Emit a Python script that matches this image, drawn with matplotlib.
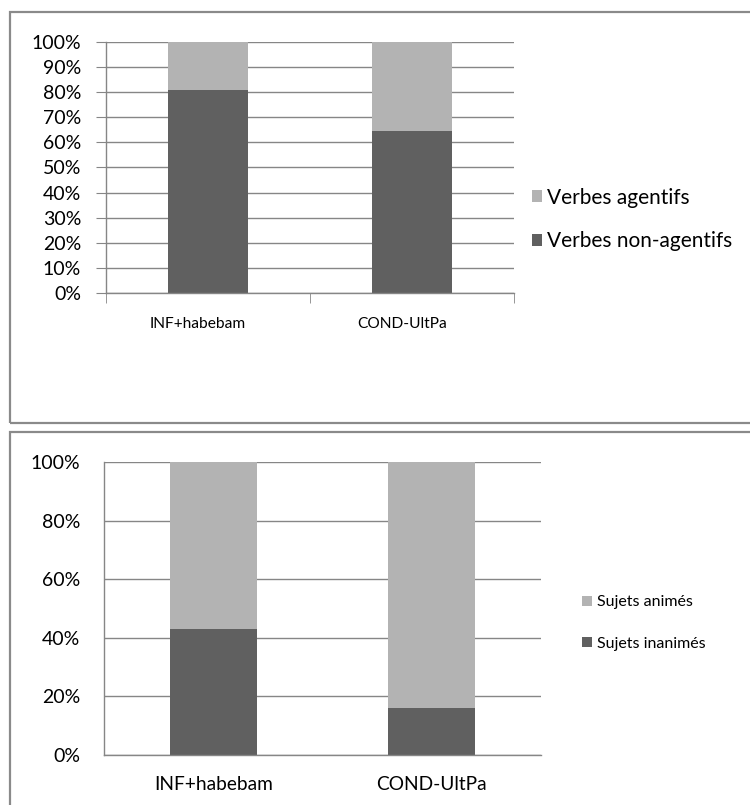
import matplotlib
matplotlib.use("Agg")
import matplotlib.pyplot as plt
from matplotlib.patches import Rectangle
from matplotlib.ticker import PercentFormatter, MultipleLocator
from matplotlib.transforms import ScaledTranslation

plt.rcParams["font.family"] = ["Lato", "DejaVu Sans"]

categories = ["INF+habebam", "COND-UltPa"]

# top chart: verb type (percent of each construction)
verbs_non_agentive = [81, 64.5]
verbs_agentive = [19, 35.5]

# bottom chart: subject animacy (percent)
subj_inanimate = [43, 16]
subj_animate = [57, 84]

DARK = "#606060"
LIGHT = "#b3b3b3"
GRID = "#868686"
BORDER = "#8a8a8a"

W, H = 750, 805
fig = plt.figure(figsize=(W / 100, H / 100), dpi=100)


def px_axes(x0, y0, x1, y1):
    # pixel box (top-left origin) -> figure fraction axes
    return fig.add_axes([x0 / W, 1 - y1 / H, (x1 - x0) / W, (y1 - y0) / H])


def panel_border(top, bottom):
    r = Rectangle((10 / W, 1 - bottom / H), 1.2, (bottom - top) / H,
                  transform=fig.transFigure, fill=False,
                  edgecolor=BORDER, linewidth=1.6, clip_on=False)
    fig.add_artist(r)


def stacked(ax, low, high, low_label, high_label, width):
    x = range(len(categories))
    ax.bar(x, low, width=width, color=DARK, label=low_label, zorder=2)
    ax.bar(x, high, bottom=low, width=width, color=LIGHT, label=high_label, zorder=2)
    ax.set_xlim(-0.5, len(categories) - 0.5)
    ax.set_ylim(0, 100)
    ax.yaxis.set_major_formatter(PercentFormatter(decimals=0))
    ax.grid(axis="y", color=GRID, linewidth=1.0, zorder=1)
    for s in ["top", "right"]:
        ax.spines[s].set_visible(False)
    for s in ["left", "bottom"]:
        ax.spines[s].set_color(GRID)
        ax.spines[s].set_linewidth(1.0)


panel_border(12, 423)
panel_border(432, 830)

# top chart
ax1 = px_axes(106, 42, 514, 293)
stacked(ax1, verbs_non_agentive, verbs_agentive,
        "Verbes non-agentifs", "Verbes agentifs", 0.397)
ax1.yaxis.set_major_locator(MultipleLocator(10))
ax1.set_xticks([0, 1])
ax1.set_xticklabels(categories, fontsize=11.2)
ax1.set_xticks([-0.5, 0.5, 1.5], minor=True)
ax1.tick_params(axis="x", which="major", length=0, pad=17)
ax1.tick_params(axis="x", which="minor", length=7, color=GRID, direction="out")
ax1.tick_params(axis="y", length=7, color=GRID, labelsize=14, pad=11)
# category labels sit a little left of the bar centres in the original
shift = ScaledTranslation(-10 / 100, 0, fig.dpi_scale_trans)
for lbl in ax1.get_xticklabels():
    lbl.set_transform(lbl.get_transform() + shift)
h, l = ax1.get_legend_handles_labels()
ax1.legend(h[::-1], l[::-1], loc="center left",
           bbox_to_anchor=(532 / W, 1 - 219.5 / H), bbox_transform=fig.transFigure,
           frameon=False, fontsize=15, handlelength=0.5, handleheight=0.5,
           handletextpad=0.2, labelspacing=1.13, borderpad=0, borderaxespad=0)

# bottom chart
ax2 = px_axes(104, 462, 541, 755)
stacked(ax2, subj_inanimate, subj_animate,
        "Sujets inanimés", "Sujets animés", 0.398)
ax2.yaxis.set_major_locator(MultipleLocator(20))
ax2.set_xticks([0, 1])
ax2.set_xticklabels(categories, fontsize=13.8)
ax2.tick_params(axis="x", length=0, pad=15)
ax2.tick_params(axis="y", length=0, labelsize=14, pad=17)
h, l = ax2.get_legend_handles_labels()
ax2.legend(h[::-1], l[::-1], loc="center left",
           bbox_to_anchor=(582 / W, 1 - 623 / H), bbox_transform=fig.transFigure,
           frameon=False, fontsize=11.5, handlelength=0.6, handleheight=0.6,
           handletextpad=0.37, labelspacing=1.7, borderpad=0, borderaxespad=0)

fig.savefig("out.png", dpi=100)
